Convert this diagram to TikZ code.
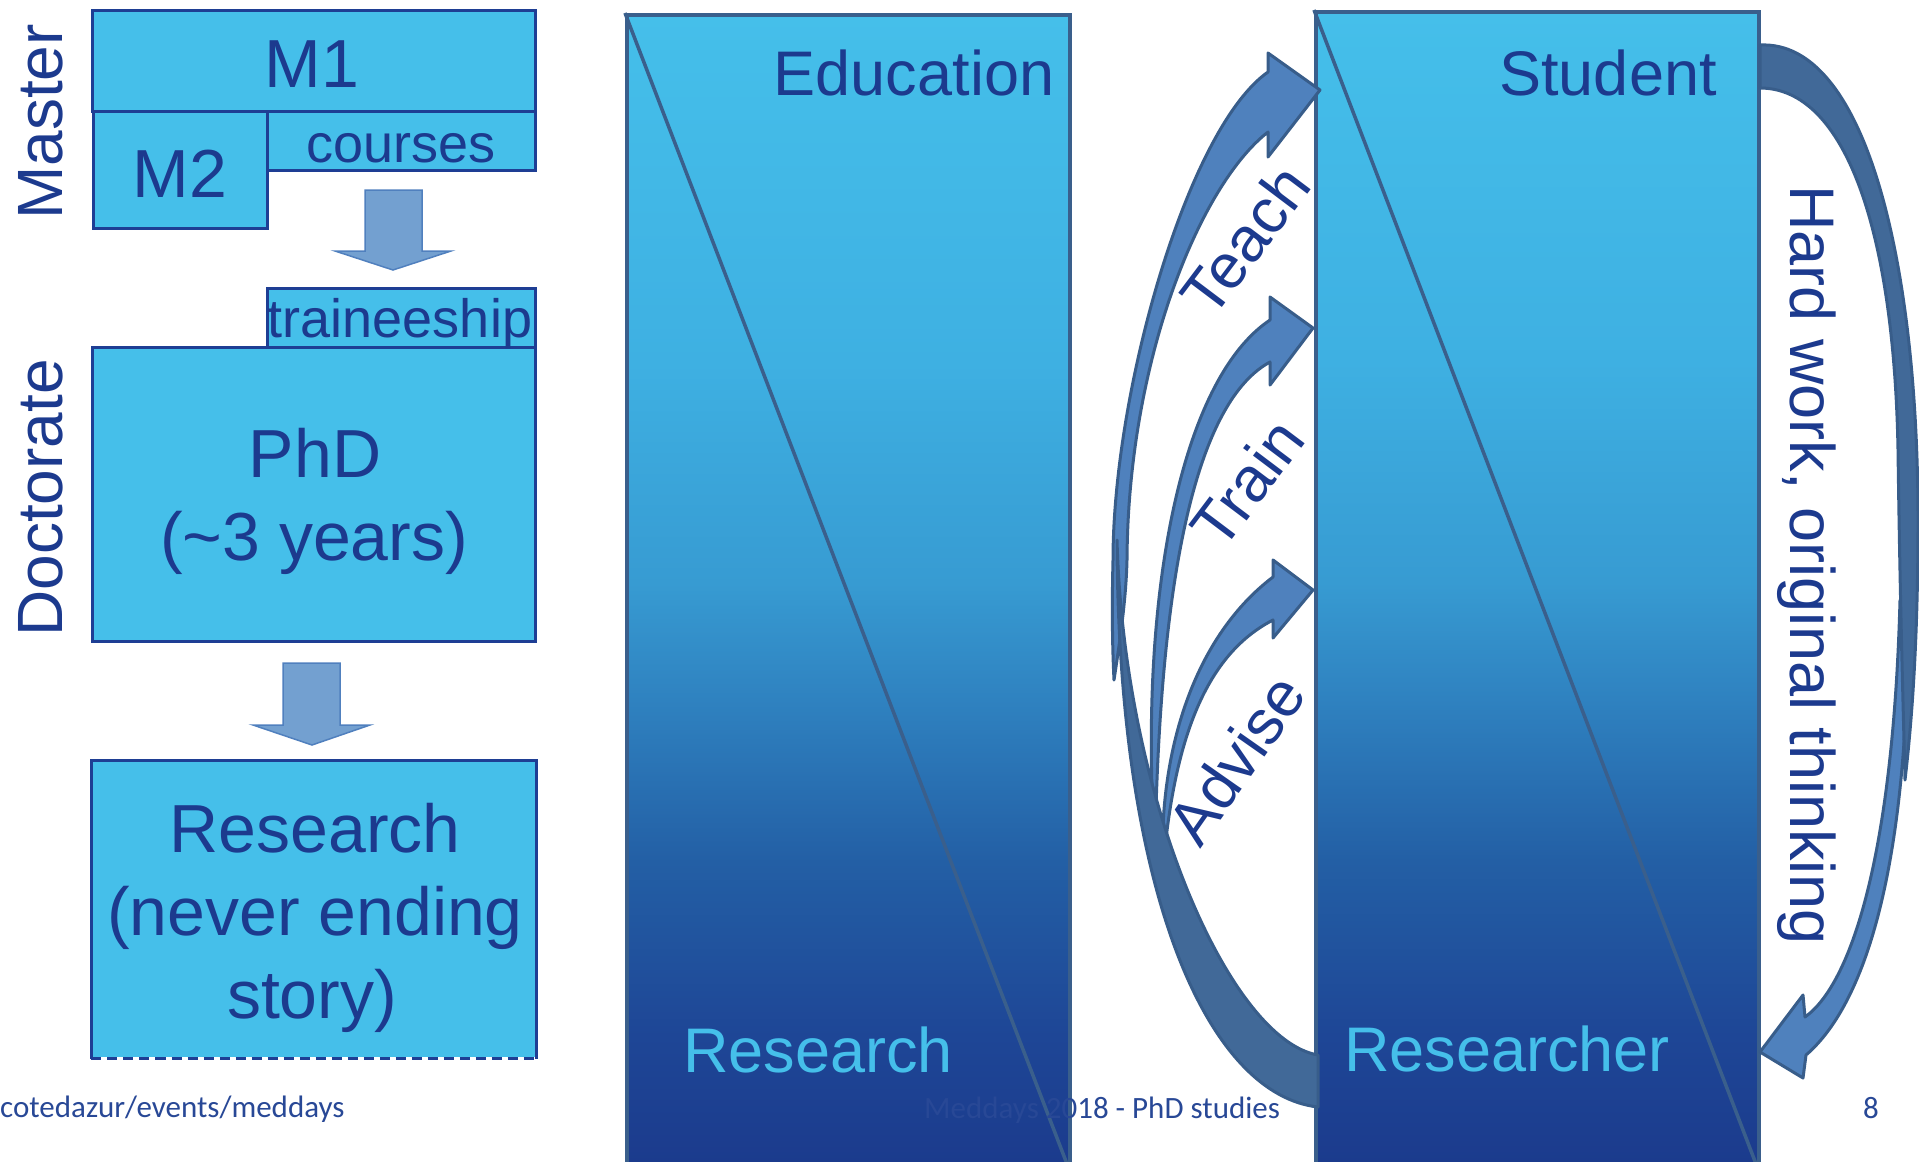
\documentclass[tikz,border=0pt]{standalone}
\usepackage{fontspec}
\setmainfont{Liberation Sans}
\newfontfamily\footfont{Carlito}
\usetikzlibrary{positioning}
\definecolor{boxfill}{RGB}{69,191,234}
\definecolor{ink}{RGB}{28,58,142}
\definecolor{boxline}{RGB}{30,62,148}
\definecolor{barline}{RGB}{58,95,140}
\definecolor{arrowfill}{RGB}{79,129,189}
\definecolor{arrowback}{RGB}{65,105,152}
\definecolor{arrowline}{RGB}{56,93,138}
\definecolor{downfill}{RGB}{115,160,208}
\definecolor{downline}{RGB}{80,128,190}
\definecolor{footink}{RGB}{40,72,150}
\definecolor{ga}{RGB}{27,58,140}
\definecolor{gb}{RGB}{30,70,150}
\definecolor{gc}{RGB}{35,95,165}
\definecolor{gd}{RGB}{47,130,192}
\definecolor{ge}{RGB}{55,155,210}
\definecolor{gf}{RGB}{62,176,226}
\definecolor{gg}{RGB}{69,191,234}
\pgfdeclareverticalshading{barshade}{100bp}{color(0bp)=(ga); color(25bp)=(ga);
  color(31bp)=(gb); color(38.5bp)=(gc); color(45.5bp)=(gd); color(50.5bp)=(ge);
  color(60bp)=(gf); color(75bp)=(gg); color(100bp)=(gg)}
\tikzset{
    box/.style={rectangle,draw=boxline,line width=3bp,fill=boxfill,inner sep=0pt},
    boxborder/.style={draw=boxline,line width=3bp},
    colbar/.style={rectangle,draw=barline,line width=4bp,shading=barshade,inner sep=0pt},
    diag/.style={draw=barline,line width=3.5bp},
    lbl/.style={inner sep=0pt,anchor=base,text=ink},
    big/.style={font=\fontsize{68bp}{82bp}\selectfont},
    mid/.style={font=\fontsize{63bp}{76bp}\selectfont},
    side/.style={font=\fontsize{64bp}{76bp}\selectfont},
    small/.style={font=\fontsize{54bp}{64bp}\selectfont},
    downarrow/.style={fill=downfill,draw=downline,line width=1.5bp},
    curlight/.style={fill=arrowfill,draw=arrowline,line width=3bp,line join=round},
    curdark/.style={fill=arrowback,draw=arrowline,line width=3bp,line join=round},
    foot/.style={inner sep=0pt,anchor=base west,text=footink,font=\footfont\fontsize{31bp}{36bp}\selectfont}
}
\begin{document}
\begin{tikzpicture}[x=1bp,y=-1bp]
\useasboundingbox (0,0) rectangle (1919,1161);
\clip (0,0) rectangle (1919,1161);

% master and doctorate
\node[box, minimum width=442bp, minimum height=101bp] (m1) at (314,60.5) {};
\node[box, minimum width=174bp, minimum height=117bp] (m2) at (180,169.5) {};
\node[box, minimum width=268bp, minimum height=59bp] (courses) at (401,140.5) {};
\node[box, minimum width=268bp, minimum height=59bp] (trainee) at (401,317.5) {};
\node[box, minimum width=442bp, minimum height=294bp] (phd) at (314,494) {};
\node[box, draw=none, minimum width=442bp, minimum height=295bp] (res) at (314,909.5) {};
\draw[boxborder] (res.south west) -- (res.north west) -- (res.north east) -- (res.south east);
\draw[boxborder, dash pattern=on 10bp off 6bp] (res.south west) -- (res.south east);

\node[lbl, big] (m1txt) at (312,87) {M1};
\node[lbl, big] (m2txt) at (180,197) {M2};
\node[lbl, small] (coursestxt) at (401,162) {courses};
\node[lbl, small] (traineetxt) at (400,337) {traineeship};
\node[lbl, big] (phdtxt) at (315,477) {PhD};
\node[lbl, big] (yearstxt) at (314,560) {(\textasciitilde 3 years)};
\node[lbl, big] (restxt) at (315,852) {Research};
\node[lbl, big] (nevertxt) at (315,935) {(never ending};
\node[lbl, big] (storytxt) at (312,1018) {story)};
\node[lbl, side, rotate=90] (master) at (62,122) {Master};
\node[lbl, side, rotate=90] (doctorate) at (62,498) {Doctorate};

\draw[downarrow] (365,190) -- (422,190) -- (422,251) -- (451,251) -- (393,270) -- (335,251) -- (365,251) -- cycle;
\draw[downarrow] (283,663) -- (340,663) -- (340,725) -- (370,725) -- (312,745) -- (253,725) -- (283,725) -- cycle;

% education / research bar
\node[colbar, minimum width=443bp, minimum height=1160bp] (edu) at (848.5,595) {};
\draw[diag] (edu.north west) -- (edu.south east);
\node[lbl, mid] (edutxt) at (914,95) {Education};
\node[lbl, mid, text=boxfill] (researchtxt) at (818,1072) {Research};

% student / researcher bar
\node[colbar, minimum width=443bp, minimum height=1163bp] (stud) at (1537.5,593.5) {};
\draw[diag] (stud.north west) -- (stud.south east);
\node[lbl, mid] (studtxt) at (1608,95) {Student};
\node[lbl, mid, text=boxfill] (researchertxt) at (1507,1071) {Researcher};

% teach, train, advise
\draw[curlight] (1114,680) .. controls (1112,640) and (1112,600) .. (1113,560)
    .. controls (1113,390) and (1188,128) .. (1268,72)
    -- (1268,53) -- (1320,90) -- (1268,157) -- (1268,132)
    .. controls (1200,185) and (1128,360) .. (1127,560)
    .. controls (1126,600) and (1120,640) .. (1114,680) -- cycle;
\draw[curlight] (1155,850) .. controls (1138,600) and (1180,380) .. (1270,320)
    -- (1270,297) -- (1313,328) -- (1270,385) -- (1270,362)
    .. controls (1200,400) and (1160,560) .. (1155,850) -- cycle;
\draw[curlight] (1163,870) .. controls (1158,760) and (1190,640) .. (1273,577)
    -- (1273,560) -- (1313,590) -- (1273,638) -- (1273,620)
    .. controls (1215,650) and (1175,720) .. (1163,870) -- cycle;
\draw[curdark] (1318,1107) .. controls (1210,1095) and (1118,900) .. (1117,540)
    .. controls (1124,800) and (1230,1040) .. (1318,1055) -- cycle;
\node[lbl, mid, anchor=center, rotate=53] (teach) at (1245,240) {Teach};
\node[lbl, mid, anchor=center, rotate=53] (train) at (1247,483) {Train};
\node[lbl, mid, anchor=center, rotate=55] (advise) at (1236,759) {Advise};

% hard work
\draw[curlight] (1908,600) .. controls (1910,850) and (1870,1000) .. (1806,1055)
    -- (1803,1078) -- (1760,1052) -- (1803,995) -- (1805,1017)
    .. controls (1850,985) and (1893,860) .. (1900,600) -- cycle;
\draw[curdark] (1760,45) .. controls (1865,40) and (1918,260) .. (1918,520)
    .. controls (1918,640) and (1912,720) .. (1905,780)
    .. controls (1903,700) and (1900,600) .. (1898,450)
    .. controls (1894,230) and (1845,88) .. (1760,88) -- cycle;
\node[lbl, mid, rotate=-90] (hardwork) at (1790,565) {Hard work, original thinking};

% footer
\node[foot] (url) at (0,1117) {cotedazur/events/meddays};
\node[foot] (title) at (924,1118) {Meddays 2018 - PhD studies};
\node[foot, anchor=base] (page) at (1871,1118) {8};
\end{tikzpicture}
\end{document}
